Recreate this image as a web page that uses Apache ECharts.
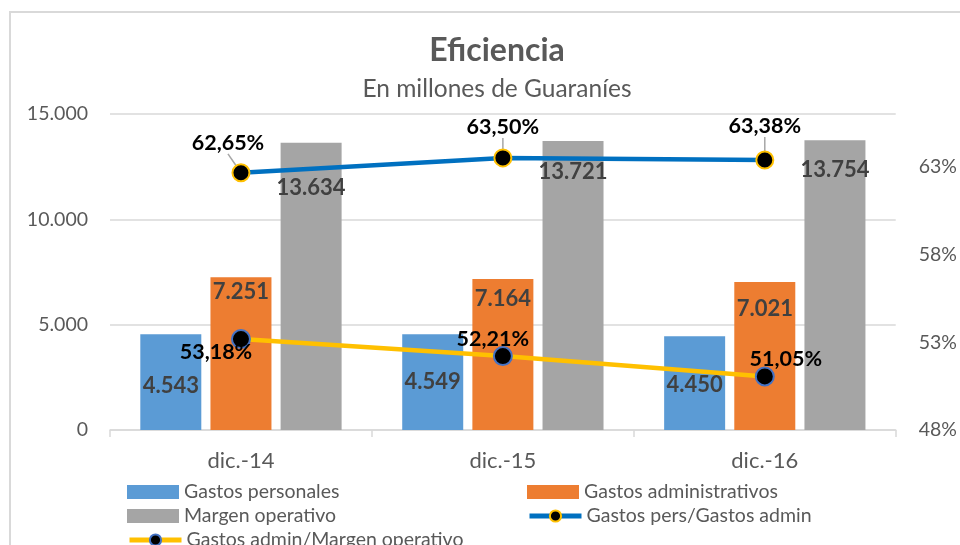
<!DOCTYPE html>
<html>
<head>
<meta charset="utf-8">
<script src="https://cdn.jsdelivr.net/npm/echarts@6/dist/echarts.min.js"></script>
<style>
html,body{margin:0;padding:0;background:#fff;}
#chart{width:960px;height:545px;}
</style>
</head>
<body>
<div id="chart"></div>
<script>
// ---- data ----
const categories = ['dic.-14', 'dic.-15', 'dic.-16'];
const gastosPersonales = [4543, 4549, 4450];
const gastosAdministrativos = [7251, 7164, 7021];
const margenOperativo = [13634, 13721, 13754];
const persSobreAdmin = [62.65, 63.50, 63.38];
const adminSobreMargen = [53.18, 52.21, 51.05];
const leftTicks = [0, 5000, 10000, 15000];
const rightTicks = [48, 53, 58, 63];

// ---- label nudges (layout only) ----
const nudgeBlueBar = [41, 37, 38];
const nudgeOrangeBar = [4, 9, 16];
const nudgeGrayBar = [34, 20, 19];
const nudgeBlueLine = [[-13, -30], [0, -31], [0, -34]];
const nudgeYellowLine = [[-25, 13], [-10, -17], [21, -17]];

const FONT = 'Lato';
const fmtThousands = v => String(Math.round(v)).replace(/\B(?=(\d{3})+(?!\d))/g, '.');
const fmtPct = v => v.toFixed(2).replace('.', ',') + '%';

function barData(values, nudges) {
  return values.map((v, i) => ({ value: v, label: { offset: [0, nudges[i]] } }));
}
function lineData(values, nudges) {
  return values.map((v, i) => ({ value: v, label: { offset: nudges[i] } }));
}

const barLabel = {
  show: true,
  position: 'insideTop',
  distance: 0,
  fontFamily: FONT,
  fontSize: 22,
  fontWeight: 'bold',
  color: '#404040',
  lineHeight: 22,
  formatter: p => fmtThousands(p.value)
};
const lineLabel = {
  show: true,
  position: 'inside',
  fontFamily: FONT,
  fontSize: 21.5,
  fontWeight: 'bold',
  color: '#000',
  formatter: p => fmtPct(p.value)
};

const legendText = { fontFamily: FONT, fontSize: 19.5, color: '#595959', lineHeight: 20 };
function legendAt(name, left, top, icon) {
  const item = icon ? { name: name, icon: icon } : { name: name };
  return {
    orient: 'horizontal',
    left: left,
    top: top,
    padding: 0,
    itemWidth: 52,
    itemHeight: 14,
    lineStyle: { width: 5 },
    textStyle: legendText,
    data: [item]
  };
}

const chart = echarts.init(document.getElementById('chart'));
chart.setOption({
  animation: false,
  backgroundColor: '#fff',
  textStyle: { fontFamily: FONT },
  graphic: [{
    type: 'rect',
    shape: { x: 10, y: 12, width: 1000, height: 600 },
    style: { fill: 'none', stroke: '#d9d9d9', lineWidth: 2 },
    silent: true,
    z: -10
  }],
  title: {
    text: 'Eficiencia',
    subtext: 'En millones de Guaraníes',
    left: 492,
    textAlign: 'center',
    top: 30,
    itemGap: 10,
    textStyle: { fontFamily: FONT, fontSize: 32, fontWeight: 'bold', color: '#595959' },
    subtextStyle: { fontFamily: FONT, fontSize: 24.5, color: '#595959' }
  },
  legend: [
    legendAt('Gastos personales', 127, 482, 'rect'),
    legendAt('Margen operativo', 127, 506, 'rect'),
    legendAt('Gastos admin/Margen operativo', 127, 530),
    legendAt('Gastos administrativos', 527, 482, 'rect'),
    legendAt('Gastos pers/Gastos admin', 527, 506)
  ],
  grid: { left: 110, right: 61, top: 114, bottom: 115, containLabel: false },
  xAxis: {
    type: 'category',
    data: categories,
    axisLine: { lineStyle: { color: '#d9d9d9', width: 1.5 } },
    axisTick: { show: true, length: 7, lineStyle: { color: '#d9d9d9', width: 1.5 } },
    axisLabel: { fontFamily: FONT, fontSize: 22, color: '#595959', margin: 20 }
  },
  yAxis: [{
    type: 'value',
    min: 0,
    max: 15000,
    interval: 5000,
    axisLine: { show: false },
    axisTick: { show: false },
    splitLine: { lineStyle: { color: '#d9d9d9', width: 1.5 } },
    axisLabel: {
      fontFamily: FONT, fontSize: 19.5, color: '#595959', margin: 22,
      customValues: leftTicks,
      formatter: v => fmtThousands(v)
    }
  }, {
    type: 'value',
    min: 48,
    max: 66,
    axisLine: { show: false },
    axisTick: { show: false },
    splitLine: { show: false },
    axisLabel: {
      fontFamily: FONT, fontSize: 19.5, color: '#595959', margin: 23,
      customValues: rightTicks,
      formatter: v => Math.round(v) + '%'
    }
  }],
  series: [{
    name: 'Gastos personales',
    type: 'bar',
    barWidth: 61,
    barGap: '15%',
    itemStyle: { color: '#5B9BD5' },
    label: barLabel,
    data: barData(gastosPersonales, nudgeBlueBar)
  }, {
    name: 'Gastos administrativos',
    type: 'bar',
    barWidth: 61,
    barGap: '15%',
    itemStyle: { color: '#ED7D31' },
    label: barLabel,
    data: barData(gastosAdministrativos, nudgeOrangeBar)
  }, {
    name: 'Margen operativo',
    type: 'bar',
    barWidth: 61,
    barGap: '15%',
    itemStyle: { color: '#A5A5A5' },
    label: barLabel,
    data: barData(margenOperativo, nudgeGrayBar)
  }, {
    name: 'Gastos pers/Gastos admin',
    type: 'line',
    yAxisIndex: 1,
    symbol: 'circle',
    symbolSize: 17,
    z: 5,
    lineStyle: { color: '#0070C0', width: 4.5 },
    itemStyle: { color: '#000', borderColor: '#FFC000', borderWidth: 2 },
    label: lineLabel,
    labelLine: { show: true, lineStyle: { color: '#a6a6a6', width: 1.5 } },
    data: lineData(persSobreAdmin, nudgeBlueLine)
  }, {
    name: 'Gastos admin/Margen operativo',
    type: 'line',
    yAxisIndex: 1,
    symbol: 'circle',
    symbolSize: 18,
    z: 5,
    lineStyle: { color: '#FFC000', width: 4.5 },
    itemStyle: { color: '#000', borderColor: '#4472C4', borderWidth: 2 },
    label: lineLabel,
    data: lineData(adminSobreMargen, nudgeYellowLine)
  }]
});
</script>
</body>
</html>
